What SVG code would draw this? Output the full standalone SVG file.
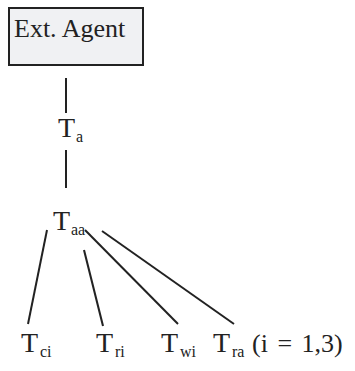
<svg xmlns="http://www.w3.org/2000/svg" width="355" height="371" viewBox="0 0 355 371">
<style>
text{font-family:"Liberation Serif","Times New Roman",serif;fill:#222}
.m{font-size:28px}
.s{font-size:16px}
.c line{stroke:#222;stroke-width:2}
</style>
<rect width="355" height="371" fill="#fff"/>
<g id="ext-agent">
<rect x="9" y="8" width="134" height="57" fill="#f0f1f3" stroke="#222" stroke-width="2"/>
<text x="14" y="37" style="font-size:26px">Ext. Agent</text>
</g>
<g id="Ta"><text class="m" x="58" y="137">T</text><text class="s" x="76" y="142">a</text></g>
<g id="Taa"><text class="m" x="53" y="230">T</text><text class="s" x="71" y="235">aa</text></g>
<g id="Tci"><text class="m" x="21" y="352">T</text><text class="s" x="40" y="357">ci</text></g>
<g id="Tri"><text class="m" x="96" y="352">T</text><text class="s" x="115" y="357">ri</text></g>
<g id="Twi"><text class="m" x="161" y="352">T</text><text class="s" x="180" y="357">wi</text></g>
<g id="Tra"><text class="m" x="213" y="352">T</text><text class="s" x="232" y="357">ra</text></g>
<g id="note"><text x="252" y="352" style="font-size:26px;word-spacing:3px">(i = 1,3)</text></g>
<g class="c" id="connectors">
<line x1="66" y1="78" x2="66" y2="113"/>
<line x1="66" y1="150" x2="66" y2="188"/>
<line x1="47" y1="230" x2="28" y2="324"/>
<line x1="84" y1="250" x2="103" y2="326"/>
<line x1="85" y1="230" x2="178" y2="324"/>
<line x1="102" y1="231" x2="234" y2="324"/>
</g>
</svg>
